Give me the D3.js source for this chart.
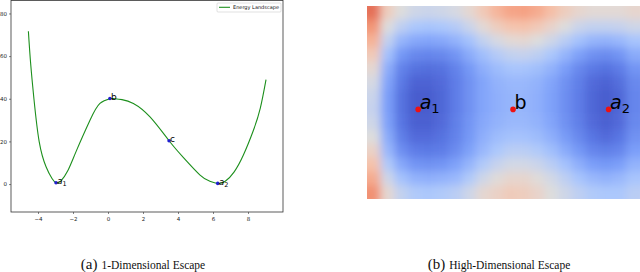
<!DOCTYPE html>
<html>
<head>
<meta charset="utf-8">
<script src="https://cdn.jsdelivr.net/npm/d3@7"></script>
<style>
  body { margin: 0; background: #fff; }
  svg { display: block; }
</style>
</head>
<body>
<div id="chart"></div>
<script>
// energy curve
var curveX = [-4.55, -4.42, -4.23, -3.93, -3.54, -3.2, -2.97, -2.7, -2.3, -1.79, -1.03, -0.46, 0.11, 0.3, 0.8, 1.45, 2.4, 3.49, 4.3, 5.26, 5.8, 6.27, 6.7, 7.2, 7.73, 8.3, 8.7, 9.03];
var curveY = [71.7, 56.5, 39.8, 19.8, 8.1, 2.6, 0.6, 1.4, 6.2, 15.9, 29.9, 37.8, 40.0, 40.1, 39.6, 37.8, 31.5, 20.3, 12.5, 4.2, 1.4, 0.3, 1.3, 5.6, 13.5, 25.0, 35.5, 49.0];

// marked points
var markNames = ["a1", "b", "c", "a2"];
var markX = [-2.97, 0.11, 3.49, 6.27];
var markY = [0.6, 40.1, 20.3, 0.3];

var xTicks = [-4, -2, 0, 2, 4, 6, 8];
var yTicks = [0, 20, 40, 60, 80];

// right panel surface, coolwarm level 0..1, rows top to bottom
var surface = [
  [0.84,0.58,0.50,0.46,0.45,0.46,0.48,0.53,0.60,0.67,0.72,0.73,0.70,0.64,0.58,0.54,0.52,0.52,0.52,0.54],
  [0.76,0.50,0.42,0.38,0.37,0.38,0.40,0.45,0.52,0.58,0.62,0.63,0.60,0.55,0.50,0.45,0.43,0.43,0.44,0.46],
  [0.68,0.43,0.32,0.28,0.27,0.28,0.31,0.36,0.43,0.48,0.52,0.53,0.50,0.46,0.41,0.36,0.32,0.31,0.33,0.37],
  [0.60,0.36,0.23,0.18,0.17,0.18,0.22,0.29,0.35,0.40,0.43,0.44,0.42,0.38,0.32,0.26,0.21,0.19,0.22,0.29],
  [0.53,0.30,0.16,0.11,0.10,0.11,0.16,0.23,0.30,0.34,0.37,0.37,0.35,0.31,0.25,0.18,0.13,0.11,0.14,0.22],
  [0.48,0.27,0.13,0.07,0.07,0.09,0.14,0.21,0.27,0.31,0.33,0.33,0.31,0.27,0.21,0.15,0.09,0.07,0.10,0.18],
  [0.45,0.25,0.11,0.05,0.05,0.08,0.14,0.21,0.27,0.30,0.32,0.32,0.30,0.26,0.20,0.14,0.08,0.05,0.08,0.17],
  [0.44,0.25,0.11,0.05,0.05,0.08,0.14,0.21,0.27,0.30,0.32,0.32,0.30,0.26,0.20,0.14,0.08,0.05,0.08,0.17],
  [0.46,0.26,0.12,0.06,0.06,0.09,0.15,0.22,0.28,0.31,0.33,0.33,0.31,0.27,0.21,0.15,0.09,0.06,0.09,0.18],
  [0.50,0.29,0.15,0.09,0.09,0.11,0.16,0.23,0.30,0.34,0.36,0.36,0.34,0.30,0.24,0.18,0.12,0.09,0.12,0.21],
  [0.56,0.33,0.20,0.14,0.13,0.14,0.19,0.26,0.33,0.38,0.41,0.41,0.39,0.35,0.29,0.23,0.17,0.15,0.17,0.25],
  [0.63,0.39,0.28,0.22,0.21,0.22,0.26,0.32,0.39,0.44,0.47,0.47,0.45,0.41,0.36,0.30,0.25,0.23,0.25,0.31],
  [0.70,0.46,0.36,0.31,0.30,0.31,0.33,0.39,0.46,0.51,0.54,0.54,0.51,0.47,0.42,0.37,0.33,0.31,0.33,0.37],
  [0.77,0.53,0.43,0.39,0.38,0.39,0.41,0.46,0.53,0.56,0.59,0.58,0.55,0.50,0.46,0.42,0.39,0.38,0.38,0.41]
];

// minima / saddle on the surface (column, row in grid units)
var surfNames = ["a1", "b", "a2"];
var surfCol = [3.75, 10.7, 17.7];
var surfRow = [7.5, 7.5, 7.5];

var W = 640, H = 272;
var svg = d3.select("#chart").append("svg")
    .attr("width", W)
    .attr("height", H);

// ---------- left panel ----------
var left = { l: 11, r: 283, t: 0.5, b: 212 };
var x = d3.scaleLinear().domain([-5.543, 10.0]).range([left.l, left.r]);
var y = d3.scaleLinear().domain([-13.1, 86.08]).range([left.b, left.t]);

var g = svg.append("g");

var xAxis = g.append("g")
  .attr("transform", "translate(0," + left.b + ")")
  .call(d3.axisBottom(x).tickValues(xTicks).tickSize(2).tickPadding(3)
    .tickFormat(function(d) { return d < 0 ? "\u2212" + Math.abs(d) : d; }));
var yAxis = g.append("g")
  .attr("transform", "translate(" + left.l + ",0)")
  .call(d3.axisLeft(y).tickValues(yTicks).tickSize(2).tickPadding(2));
[xAxis, yAxis].forEach(function(a) {
  a.select(".domain").remove();
  a.selectAll("text").attr("font-family", "DejaVu Sans").attr("font-size", 5.5).attr("fill", "#222");
  a.selectAll("line").attr("stroke", "#333").attr("stroke-width", 0.6);
});

g.append("rect")
  .attr("x", left.l).attr("y", left.t)
  .attr("width", left.r - left.l).attr("height", left.b - left.t)
  .attr("fill", "none").attr("stroke", "#333").attr("stroke-width", 0.8);

var pts = curveX.map(function(v, i) { return [v, curveY[i]]; });
var line = d3.line()
  .x(function(d) { return x(d[0]); })
  .y(function(d) { return y(d[1]); })
  .curve(d3.curveNatural);

g.append("path")
  .datum(pts)
  .attr("d", line)
  .attr("fill", "none")
  .attr("stroke", "#1c8f1c")
  .attr("stroke-width", 1.1);

var marks = markNames.map(function(n, i) { return { name: n, x: markX[i], y: markY[i] }; });
g.selectAll("circle.mk").data(marks).enter().append("circle")
  .attr("class", "mk")
  .attr("cx", function(d) { return x(d.x); })
  .attr("cy", function(d) { return y(d.y); })
  .attr("r", 1.8)
  .attr("fill", "#1f1fd0");

function addLabel(sel, name, base, sub) {
  var t = sel.append("text").attr("font-family", "DejaVu Sans").attr("fill", "#000");
  if (name.length > 1) {
    t.append("tspan").attr("font-style", "italic").attr("font-size", base).text(name[0]);
    t.append("tspan").attr("font-size", sub).attr("dy", base * 0.22).text(name[1]);
  } else {
    t.attr("font-size", base).text(name);
  }
  return t;
}
marks.forEach(function(d) {
  addLabel(g, d.name, 9, 6.5)
    .attr("x", x(d.x) + 1)
    .attr("y", y(d.y) + 1.5);
});

// legend
var lg = g.append("g").attr("transform", "translate(217,3)");
lg.append("rect").attr("width", 64).attr("height", 9)
  .attr("fill", "#fff").attr("stroke", "#ccc").attr("stroke-width", 0.6).attr("rx", 1);
lg.append("line").attr("x1", 2).attr("x2", 13).attr("y1", 4.3).attr("y2", 4.3)
  .attr("stroke", "#1c8f1c").attr("stroke-width", 1.1);
lg.append("text").attr("x", 16).attr("y", 6.3)
  .attr("font-family", "DejaVu Sans").attr("font-size", 5)
  .attr("fill", "#111").text("Energy Landscape");

// ---------- right panel ----------
var right = { l: 367, r: 640, t: 6, b: 199 };
var nCols = surface[0].length, nRows = surface.length;
var cx = d3.scaleLinear().domain([0, nCols]).range([right.l, right.r]);
var cy = d3.scaleLinear().domain([0, nRows]).range([right.t, right.b]);
var coolwarm = d3.scaleLinear()
  .domain([0, 0.125, 0.25, 0.375, 0.5, 0.625, 0.75, 0.875, 1])
  .range(["#3b4cc0", "#5a78e4", "#7b9ff9", "#aac7fd", "#dddddd", "#f5c4ad", "#f49a7b", "#de604d", "#b40426"])
  .interpolate(d3.interpolateLab);

var defs = svg.append("defs");
defs.append("clipPath").attr("id", "surfClip")
  .append("rect").attr("x", right.l).attr("y", right.t)
  .attr("width", right.r - right.l).attr("height", right.b - right.t);
var blur = defs.append("filter").attr("id", "soft")
  .attr("x", "-5%").attr("y", "-5%").attr("width", "110%").attr("height", "110%");
blur.append("feGaussianBlur").attr("stdDeviation", 4).attr("edgeMode", "duplicate");

var cells = [];
surface.forEach(function(row, j) {
  row.forEach(function(v, i) { cells.push({ i: i, j: j, v: v }); });
});

var sg = svg.append("g").attr("clip-path", "url(#surfClip)");
sg.append("g").attr("filter", "url(#soft)")
  .selectAll("rect").data(cells).enter().append("rect")
  .attr("x", function(d) { return cx(d.i) - (d.i === 0 ? 8 : 0); })
  .attr("y", function(d) { return cy(d.j) - (d.j === 0 ? 8 : 0); })
  .attr("width", function(d) { return cx(d.i + 1) - cx(d.i) + 0.6 + (d.i === 0 || d.i === nCols - 1 ? 8 : 0); })
  .attr("height", function(d) { return cy(d.j + 1) - cy(d.j) + 0.6 + (d.j === 0 || d.j === nRows - 1 ? 8 : 0); })
  .attr("fill", function(d) { return coolwarm(d.v); });

var smarks = surfNames.map(function(n, i) { return { name: n, c: surfCol[i], r: surfRow[i] }; });
svg.selectAll("circle.sm").data(smarks).enter().append("circle")
  .attr("class", "sm")
  .attr("cx", function(d) { return cx(d.c); })
  .attr("cy", function(d) { return cy(d.r); })
  .attr("r", 2.8)
  .attr("fill", "#ee1111");
smarks.forEach(function(d) {
  addLabel(svg, d.name, 19, 13)
    .attr("x", cx(d.c) + 1.5)
    .attr("y", cy(d.r) - 0.5);
});

// ---------- captions ----------
function caption(cxPos, tag, txt) {
  var t = svg.append("text").attr("x", cxPos).attr("y", 269)
    .attr("text-anchor", "middle").attr("font-family", "Liberation Serif").attr("fill", "#111");
  t.append("tspan").attr("font-size", 15).text(tag);
  t.append("tspan").attr("font-size", 11.5).attr("dx", 4).text(txt);
}
caption(143, "(a)", "1-Dimensional Escape");
caption(499, "(b)", "High-Dimensional Escape");
</script>
</body>
</html>
